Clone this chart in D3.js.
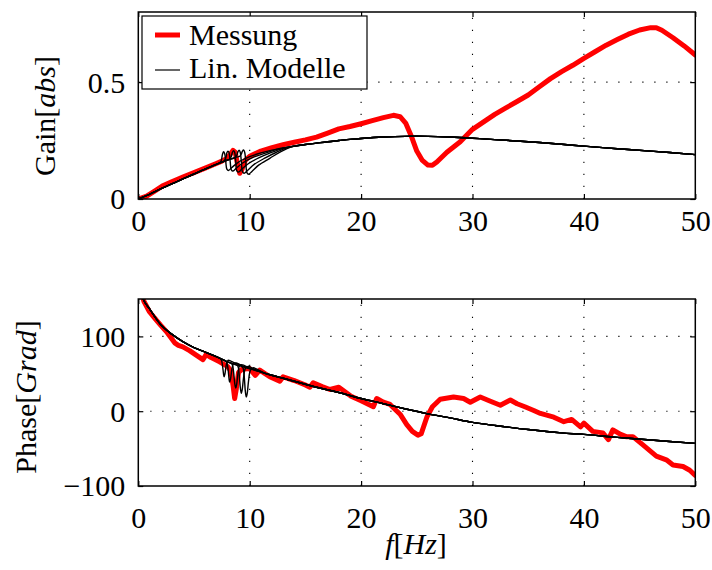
<!DOCTYPE html>
<html>
<head>
<meta charset="utf-8">
<script src="https://cdn.jsdelivr.net/npm/d3@7"></script>
<style>
body { margin: 0; background: #fff; }
svg text { font-family: "Liberation Serif", "Times New Roman", "DejaVu Serif", serif; font-size: 30px; fill: #000; }
</style>
</head>
<body>
<svg id="chart" width="712" height="570"></svg>
<script>
const width = 712;
const height = 570;

// measured curve (Messung), [f in Hz, value]
const messungGain = [[0,0],[0.75,0.012],[1.5,0.035],[2.25,0.058],[3,0.074],[4,0.094],[5,0.113],[6,0.132],[7,0.152],[7.5,0.162],[8,0.175],[8.3,0.195],[8.5,0.208],[8.7,0.2],[8.9,0.15],[9.1,0.11],[9.3,0.125],[9.6,0.165],[10,0.183],[11,0.205],[12,0.22],[13,0.232],[14,0.243],[15,0.253],[16,0.265],[17,0.282],[18,0.3],[19,0.31],[20,0.322],[21,0.335],[22,0.348],[22.9,0.358],[23.5,0.352],[24,0.325],[24.5,0.27],[25,0.205],[25.5,0.165],[26,0.145],[26.4,0.144],[26.8,0.158],[27.7,0.2],[28.9,0.245],[30,0.298],[31,0.33],[32,0.362],[33,0.39],[34,0.417],[35,0.445],[36,0.48],[37,0.515],[38,0.545],[39,0.572],[40,0.602],[41,0.63],[42,0.658],[43,0.682],[44,0.705],[45,0.723],[46,0.733],[46.5,0.733],[47,0.722],[48,0.69],[49,0.655],[50,0.616]];
const messungPhase = [[0.3,158],[0.5,147],[1,133],[1.6,122],[2,115],[2.6,105],[3,97],[3.3,91],[3.6,88],[4,86],[4.6,81],[5.2,75],[5.8,69],[6.1,76],[6.5,72],[7.3,66],[8,60],[8.3,54],[8.5,35],[8.65,17],[8.8,30],[9,52],[9.3,56],[10,57],[10.5,48],[10.9,55],[11.8,46],[12.7,40],[13,46],[14,41],[15,35],[15.4,32],[15.7,38],[16.5,33],[17.2,29],[18,32],[19.1,20],[20,14],[21.1,6],[21.4,17],[22,12],[22.6,9],[23.5,-4],[24.1,-18],[24.6,-27],[25.1,-32],[25.4,-30],[25.9,-8],[26.4,6],[27.1,16],[28.3,19],[29.2,17],[29.8,12],[30.7,19],[31.5,14],[32.5,8],[33.4,15],[34,10],[34.7,6],[35.5,1],[36.1,-3],[37.3,-8],[38.2,-14],[38.9,-11],[39.7,-21],[40,-16],[40.8,-27],[41.7,-29],[42.2,-38],[42.6,-25],[43.3,-31],[43.8,-34],[44.4,-34],[45.3,-45],[46.5,-60],[47.4,-65],[48,-72],[48.9,-74],[49.5,-79],[50,-86]];

// linear models: shared shape away from the resonance
const modelFreq  = [0,0.5,1,2,3,4,5,6,7,8,9,10,11,12,13,14,15,16,17,18,19,20,22,24,26,28,30,32,35,38,40,43,46,50];
const modelGain  = [0,0.01,0.02,0.043,0.065,0.086,0.107,0.128,0.148,0.166,0.18,0.19,0.2,0.21,0.218,0.226,0.233,0.239,0.245,0.25,0.255,0.259,0.265,0.268,0.268,0.265,0.26,0.254,0.245,0.234,0.226,0.215,0.205,0.19];
const modelPhase = [180,148,137,116,103,93,85,79,73,66,61,57,52.5,48,44,40,36,32,28.5,25,21,17,10,3,-3.5,-9,-15,-19,-24.5,-29,-31,-35,-38.5,-43];

// resonance part of each model, [f, value]
const resGain = [
  [[7.0,0.148],[7.3,0.155],[7.45,0.165],[7.55,0.19],[7.65,0.202],[7.75,0.195],[7.85,0.16],[7.95,0.128],[8.1,0.122],[8.4,0.135],[9.0,0.158],[10.0,0.181],[11.0,0.197],[12.0,0.209]],
  [[7.4,0.156],[7.7,0.163],[7.85,0.175],[7.95,0.198],[8.05,0.205],[8.15,0.198],[8.25,0.16],[8.35,0.125],[8.5,0.12],[8.8,0.132],[9.4,0.155],[10.4,0.18],[11.4,0.196],[12.4,0.212]],
  [[7.9,0.165],[8.2,0.171],[8.35,0.182],[8.45,0.2],[8.55,0.207],[8.65,0.2],[8.75,0.16],[8.85,0.12],[9.0,0.115],[9.3,0.128],[9.9,0.152],[10.9,0.178],[11.9,0.198],[12.9,0.216]],
  [[8.4,0.172],[8.7,0.177],[8.85,0.188],[8.95,0.203],[9.05,0.209],[9.15,0.2],[9.25,0.16],[9.35,0.117],[9.5,0.11],[9.8,0.122],[10.4,0.148],[11.4,0.176],[12.4,0.2],[13.4,0.22]],
  [[8.8,0.179],[9.1,0.183],[9.25,0.193],[9.35,0.205],[9.45,0.21],[9.55,0.2],[9.65,0.16],[9.75,0.113],[9.9,0.106],[10.2,0.118],[10.8,0.145],[11.8,0.174],[12.8,0.203],[13.8,0.224]]
];
const resPhase = [
  [[7.0,73],[7.3,71],[7.45,69],[7.55,62],[7.65,50],[7.7,46],[7.78,50],[7.9,62],[8.05,68],[8.3,67],[8.8,63.5],[9.5,59],[10.5,54.7]],
  [[7.5,69.5],[7.8,67.5],[7.95,65],[8.05,57],[8.15,43],[8.2,39],[8.28,43],[8.4,56],[8.55,64],[8.8,64.5],[9.3,61],[10,57],[11,52.5]],
  [[8.0,66],[8.3,64.5],[8.45,62],[8.55,53],[8.67,36],[8.75,31],[8.83,36],[8.95,51],[9.1,61],[9.35,62],[9.8,59],[10.5,55],[11.5,50]],
  [[8.5,63.5],[8.8,62],[8.95,60],[9.05,50],[9.17,30],[9.25,24],[9.33,29],[9.45,45],[9.6,57],[9.85,60],[10.3,57],[11,52.5],[12,48]],
  [[9.0,61],[9.25,60],[9.4,58],[9.5,48],[9.62,25],[9.7,19],[9.78,24],[9.9,41],[10.05,54],[10.3,58],[10.8,55],[11.5,50],[12.5,46]]
];

const xTicks = [0, 10, 20, 30, 40, 50];
const gainTicks = [0, 0.5];
const phaseTicks = [-100, 0, 100];

const svg = d3.select("#chart");
svg.append("rect").attr("width", width).attr("height", height).attr("fill", "#fff");

const x = d3.scaleLinear().domain([0, 50]).range([138.3, 695.3]);
const yGain = d3.scaleLinear().domain([0, 0.8]).range([199, 12]);
const yPhase = d3.scaleLinear().domain([-100, 150]).range([486, 299]);

// put the resonance window of one model into the shared curve
function withResonance(base, res) {
    let lo = res[0][0], hi = res[res.length - 1][0];
    return base.filter(d => d[0] < lo || d[0] > hi).concat(res).sort((a, b) => a[0] - b[0]);
}

function panel(id, y, yTicks, grids, meas, modelVals, res, xPad) {
    let g = svg.append("g").attr("id", id);
    let [x0, x1] = x.range();
    let [y0, y1] = y.range();

    g.append("clipPath").attr("id", id + "-clip")
        .append("rect").attr("x", x0).attr("y", y1).attr("width", x1 - x0).attr("height", y0 - y1);

    // dotted grid
    let grid = g.append("g").attr("stroke", "#000").attr("stroke-width", 1.1).attr("stroke-dasharray", "1.2,10.8");
    [10, 20, 30, 40].forEach(function(v) {
        grid.append("line").attr("x1", x(v)).attr("x2", x(v)).attr("y1", y0).attr("y2", y1);
    });
    grids.forEach(function(v) {
        grid.append("line").attr("x1", x0).attr("x2", x1).attr("y1", y(v)).attr("y2", y(v));
    });

    let plot = g.append("g").attr("clip-path", `url(#${id}-clip)`);

    plot.append("path")
        .attr("d", d3.line().x(d => x(d[0])).y(d => y(d[1]))(meas))
        .attr("fill", "none").attr("stroke", "#ff0000").attr("stroke-width", 5)
        .attr("stroke-linejoin", "round").attr("stroke-linecap", "round");

    let base = d3.zip(modelFreq, modelVals);
    let modelLine = d3.line().x(d => x(d[0])).y(d => y(d[1])).curve(d3.curveCatmullRom.alpha(0.5));
    res.forEach(function(r) {
        plot.append("path")
            .attr("d", modelLine(withResonance(base, r)))
            .attr("fill", "none").attr("stroke", "#000").attr("stroke-width", 1.4);
    });

    // axes with inward ticks on all four sides
    g.append("g").attr("transform", `translate(0,${y0})`)
        .call(d3.axisBottom(x).tickValues(xTicks).tickSize(-5).tickPadding(xPad).tickFormat(d3.format("d")));
    g.append("g").attr("transform", `translate(0,${y1})`)
        .call(d3.axisTop(x).tickValues(xTicks).tickSize(-5).tickFormat(""));
    let left = g.append("g").attr("transform", `translate(${x0},0)`)
        .call(d3.axisLeft(y).tickValues(yTicks).tickSize(-5).tickPadding(13).tickFormat(d => d3.format("")(d).replace("-", "\u2212")));
    g.append("g").attr("transform", `translate(${x1},0)`)
        .call(d3.axisRight(y).tickValues(yTicks).tickSize(-5).tickFormat(""));
    g.selectAll(".domain").remove();
    g.selectAll("g").attr("font-family", null).attr("font-size", null);
    g.selectAll(".tick line").attr("stroke", "#000").attr("stroke-width", 1.2);
    left.selectAll(".tick text").attr("dy", "0.33em");

    g.append("rect").attr("x", x0).attr("y", y1).attr("width", x1 - x0).attr("height", y0 - y1)
        .attr("fill", "none").attr("stroke", "#000").attr("stroke-width", 1.5);
    return g;
}

panel("gain", yGain, gainTicks, [0.5], messungGain, modelGain, resGain, 11);
panel("phase", yPhase, phaseTicks, [0, 100], messungPhase, modelPhase, resPhase, 21);

// axis labels
let gainLabel = svg.append("text").attr("transform", "translate(55,116) rotate(-90)").attr("text-anchor", "middle");
gainLabel.append("tspan").text("Gain[");
gainLabel.append("tspan").attr("font-style", "italic").text("abs");
gainLabel.append("tspan").text("]");

let phaseLabel = svg.append("text").attr("transform", "translate(36,397) rotate(-90)").attr("text-anchor", "middle");
phaseLabel.append("tspan").text("Phase[");
phaseLabel.append("tspan").attr("font-style", "italic").text("Grad");
phaseLabel.append("tspan").text("]");

let xLabel = svg.append("text").attr("x", 416).attr("y", 554).attr("text-anchor", "middle");
xLabel.append("tspan").attr("font-style", "italic").text("f");
xLabel.append("tspan").text("[");
xLabel.append("tspan").attr("font-style", "italic").text("Hz");
xLabel.append("tspan").text("]");

// legend
const legend = svg.append("g").attr("id", "legend");
legend.append("rect").attr("x", 142).attr("y", 16).attr("width", 225).attr("height", 73)
    .attr("fill", "#fff").attr("stroke", "#000").attr("stroke-width", 1.2);
legend.append("line").attr("x1", 155).attr("x2", 180).attr("y1", 35).attr("y2", 35)
    .attr("stroke", "#ff0000").attr("stroke-width", 5);
legend.append("line").attr("x1", 155).attr("x2", 180).attr("y1", 70).attr("y2", 70)
    .attr("stroke", "#000").attr("stroke-width", 1.2);
legend.append("text").attr("x", 189).attr("y", 45).attr("font-size", 31).text("Messung");
legend.append("text").attr("x", 189).attr("y", 78).attr("font-size", 31).text("Lin. Modelle");
</script>
</body>
</html>
